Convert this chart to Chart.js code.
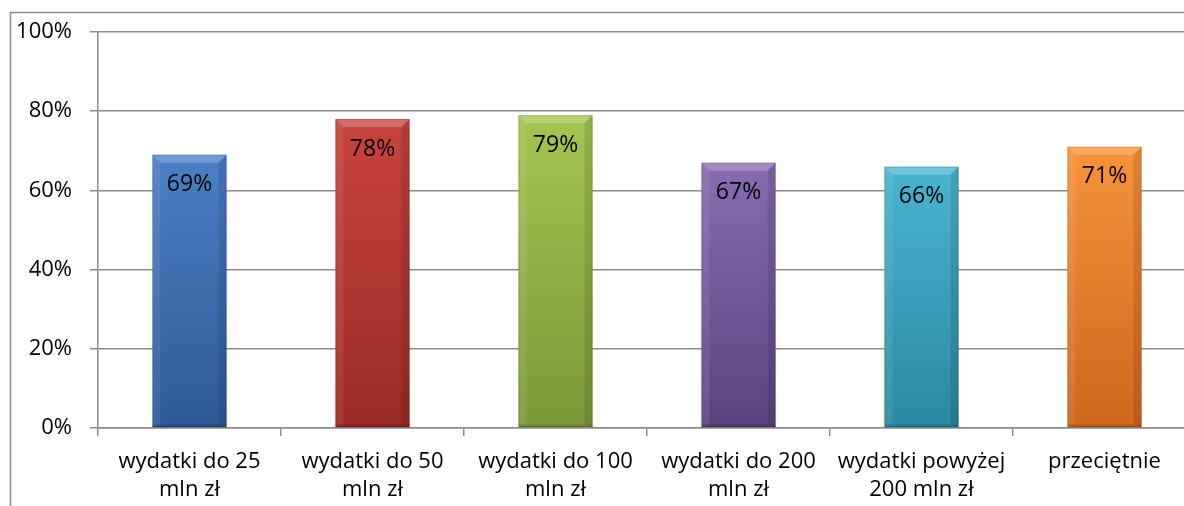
<!DOCTYPE html>
<html>
<head>
<meta charset="utf-8">
<script src="https://cdn.jsdelivr.net/npm/chart.js@4/dist/chart.umd.min.js"></script>
<style>
  html, body { margin: 0; padding: 0; background: #fff; overflow: hidden; }
  #wrap { position: relative; width: 1184px; height: 506px; overflow: hidden; }
  canvas { display: block; }
</style>
</head>
<body>
<div id="wrap"><canvas id="c" width="1200" height="506"></canvas></div>
<script>
// Kategorie wydatków i udział procentowy
const categories = [
  ['wydatki do 25', 'mln zł'],
  ['wydatki do 50', 'mln zł'],
  ['wydatki do 100', 'mln zł'],
  ['wydatki do 200', 'mln zł'],
  ['wydatki powyżej', '200 mln zł'],
  ['przeciętnie']
];
const shares = [69, 78, 79, 67, 66, 71];
const yTicks = [0, 20, 40, 60, 80, 100];

// Kolory słupków: jaśniejszy u góry, ciemniejszy u dołu
const topColors = ['#4a80c6', '#c8433f', '#a4c551', '#8a6bb2', '#4ab4d0', '#f7933a'];
const bottomColors = ['#2d5a94', '#9a2a27', '#7b9838', '#5c4380', '#2a88a3', '#cf661d'];

const FONT = '"Open Sans", Lato, sans-serif';

function barFill(ctx) {
  const chart = ctx.chart;
  const ys = chart.scales && chart.scales.y;
  if (!ys) return topColors[ctx.dataIndex];
  const y0 = ys.getPixelForValue(shares[ctx.dataIndex]);
  const y1 = ys.getPixelForValue(0);
  if (!isFinite(y0) || !isFinite(y1) || y0 === y1) return topColors[ctx.dataIndex];
  const g = chart.ctx.createLinearGradient(0, y0, 0, y1);
  g.addColorStop(0, topColors[ctx.dataIndex]);
  g.addColorStop(1, bottomColors[ctx.dataIndex]);
  return g;
}

// Ramka wykresu (lewa i górna krawędź)
const framePlugin = {
  id: 'frame',
  beforeDraw(chart) {
    const c = chart.ctx;
    c.save();
    c.strokeStyle = '#8c8c8c';
    c.lineWidth = 1.5;
    c.beginPath();
    c.moveTo(10.5, 520);
    c.lineTo(10.5, 12.5);
    c.lineTo(1300, 12.5);
    c.stroke();
    c.restore();
  }
};

// Efekt fazowania krawędzi słupków
const bevelPlugin = {
  id: 'bevel',
  afterDatasetsDraw(chart) {
    const c = chart.ctx;
    const meta = chart.getDatasetMeta(0);
    const b = 8;
    meta.data.forEach((el) => {
      const p = el.getProps(['x', 'y', 'base', 'width'], true);
      const l = p.x - p.width / 2, r = p.x + p.width / 2, t = p.y, bt = p.base;
      c.save();
      c.fillStyle = 'rgba(255,255,255,0.22)';
      c.beginPath();
      c.moveTo(l, t); c.lineTo(r, t); c.lineTo(r - b, t + b); c.lineTo(l + b, t + b); c.closePath();
      c.fill();
      c.fillStyle = 'rgba(255,255,255,0.08)';
      c.beginPath();
      c.moveTo(l, t); c.lineTo(l + b, t + b); c.lineTo(l + b, bt - 3); c.lineTo(l, bt); c.closePath();
      c.fill();
      c.fillStyle = 'rgba(0,0,0,0.10)';
      c.beginPath();
      c.moveTo(r, t); c.lineTo(r - b, t + b); c.lineTo(r - b, bt - 3); c.lineTo(r, bt); c.closePath();
      c.fill();
      c.fillStyle = 'rgba(0,0,0,0.12)';
      c.fillRect(l, bt - 3, r - l, 3);
      c.strokeStyle = 'rgba(0,0,0,0.15)';
      c.lineWidth = 1;
      c.strokeRect(l + 0.5, t + 0.5, r - l - 1, bt - t - 1);
      c.restore();
    });
  }
};

// Etykiety wartości wewnątrz słupków
const valueLabels = {
  id: 'valueLabels',
  afterDatasetsDraw(chart) {
    const c = chart.ctx;
    const meta = chart.getDatasetMeta(0);
    c.save();
    c.font = '23px ' + FONT;
    c.fillStyle = '#000';
    c.textAlign = 'center';
    c.textBaseline = 'middle';
    meta.data.forEach((el, i) => {
      c.fillText(shares[i] + '%', el.x, el.y + 30);
    });
    c.restore();
  }
};

new Chart(document.getElementById('c'), {
  type: 'bar',
  data: {
    labels: categories,
    datasets: [{
      data: shares,
      backgroundColor: barFill,
      borderWidth: 0,
      barPercentage: 0.405,
      categoryPercentage: 1
    }]
  },
  options: {
    responsive: false,
    animation: false,
    events: [],
    layout: { padding: { left: 0, right: 4, top: 32, bottom: 0 } },
    plugins: {
      legend: { display: false },
      tooltip: { enabled: false }
    },
    scales: {
      x: {
        grid: {
          offset: true,
          drawOnChartArea: false,
          drawTicks: true,
          tickLength: 8,
          color: '#8c8c8c',
          lineWidth: 1.5
        },
        border: { display: true, color: '#8c8c8c', width: 1.5 },
        ticks: {
          font: { family: FONT, size: 22, lineHeight: 1.25 },
          color: '#000',
          padding: 12,
          maxRotation: 0,
          autoSkip: false
        },
        afterFit(scale) { scale.height = 78; }
      },
      y: {
        min: 0,
        max: 100,
        afterBuildTicks(scale) { scale.ticks = yTicks.map(v => ({ value: v })); },
        ticks: {
          font: { family: FONT, size: 22 },
          color: '#000',
          padding: 18,
          callback: (v) => v + '%'
        },
        grid: {
          color: '#8c8c8c',
          lineWidth: 1.5,
          tickLength: 8
        },
        border: { display: true, color: '#8c8c8c', width: 1.5 },
        afterFit(scale) { scale.width = 98; }
      }
    }
  },
  plugins: [framePlugin, bevelPlugin, valueLabels]
});
</script>
</body>
</html>
